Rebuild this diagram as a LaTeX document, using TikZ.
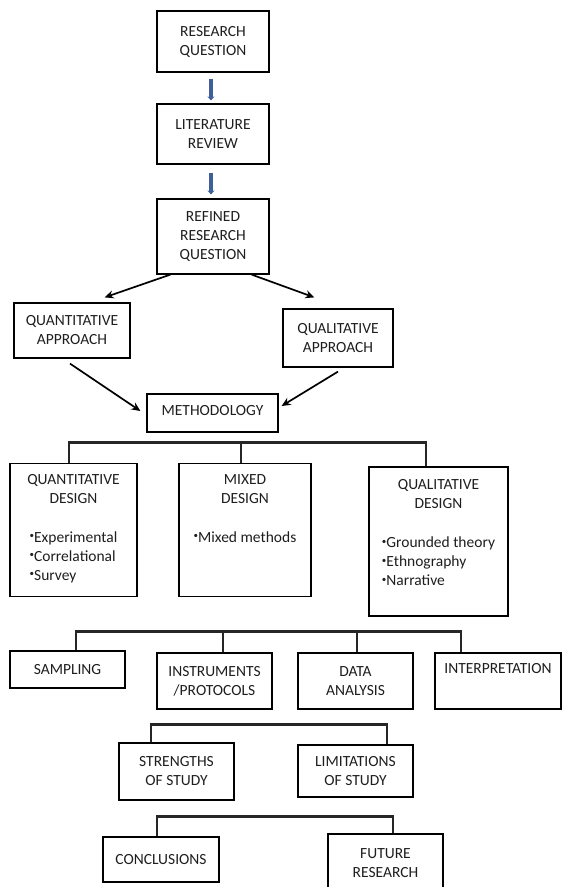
\documentclass[tikz,border=0pt]{standalone}
\usepackage{fontspec}
\setmainfont{Carlito}
\usetikzlibrary{arrows.meta}

\definecolor{arrowblue}{HTML}{3F5F9A}
\definecolor{textgray}{HTML}{1E1E1E}
\newcommand{\bul}{\raisebox{0.45ex}{\fontsize{9}{9}\selectfont\textbullet}}

\begin{document}
\begin{tikzpicture}[x=1pt, y=-1pt, font=\fontsize{15.5}{19}\selectfont, text=textgray]
  \tikzset{
    box/.style={draw, line width=1.2pt, align=center, inner sep=0pt},
    blue_arrow/.style={draw=arrowblue, line width=3.2pt, -{Stealth[length=4pt,width=7pt]}},
    black_arrow/.style={line width=1.7pt, -{Stealth[length=9pt,width=8pt]}},
    bracket/.style={line width=2.3pt, draw=black!85}
  }

  % Marco de la figura
  \useasboundingbox (0,0) rectangle (562,887);

  % Pregunta y revision
  \node[box, minimum width=112pt, minimum height=61pt] (rq) at (213,41.5) {RESEARCH\\QUESTION};
  \node[box, minimum width=112pt, minimum height=60pt] (lit) at (213,134) {LITERATURE\\REVIEW};
  \node[box, minimum width=112pt, minimum height=75pt] (rrq) at (213,236.5) {REFINED\\RESEARCH\\QUESTION};

  % Enfoques
  \node[box, minimum width=116pt, minimum height=55pt] (quant_app) at (72,330.5) {QUANTITATIVE\\APPROACH};
  \node[box, minimum width=110pt, minimum height=58pt] (qual_app) at (338,338) {QUALITATIVE\\APPROACH};
  \node[box, minimum width=131pt, minimum height=38pt, text depth=6pt] (meth) at (212.5,413) {METHODOLOGY};

  % Disenos
  \node[box, minimum width=127pt, minimum height=133pt] (quant_des) at (73.5,530)
    {QUANTITATIVE\\DESIGN\\[20pt]\begin{tabular}[t]{@{}l@{}}\bul Experimental\\ \bul Correlational\\ \bul Survey\end{tabular}};
  \node[box, minimum width=132pt, minimum height=133pt] (mixed_des) at (245,530)
    {MIXED\\DESIGN\\[20pt]\begin{tabular}[t]{@{}l@{}}\bul Mixed methods\\ ~\\ ~\end{tabular}};
  \node[box, minimum width=139pt, minimum height=149pt] (qual_des) at (438.5,541.5)
    {QUALITATIVE\\DESIGN\\[20pt]\begin{tabular}[t]{@{}l@{}}\bul Grounded theory\\ \bul Ethnography\\ \bul Narrative\\[-7pt] ~\end{tabular}};

  % Pasos del estudio
  \node[box, minimum width=115pt, minimum height=37pt] (sampling) at (67.5,669.5) {SAMPLING};
  \node[box, minimum width=115pt, minimum height=56pt] (instr) at (214.5,681) {INSTRUMENTS\\/PROTOCOLS};
  \node[box, minimum width=115pt, minimum height=56pt] (data) at (355.5,681) {DATA\\ANALYSIS};
  \node[box, minimum width=126pt, minimum height=56pt, text depth=26pt] (interp) at (498,681) {INTERPRETATION};

  \node[box, minimum width=115pt, minimum height=57pt] (strengths) at (176.5,771.5) {STRENGTHS\\OF STUDY};
  \node[box, minimum width=115pt, minimum height=52pt] (limits) at (355.5,771) {LIMITATIONS\\OF STUDY};

  \node[box, minimum width=116pt, minimum height=45pt] (concl) at (161,859.5) {CONCLUSIONS};
  \node[box, minimum width=115pt, minimum height=58pt] (future) at (385.5,863) {FUTURE\\RESEARCH};

  % Flechas azules
  \draw[blue_arrow, shorten <=6pt, shorten >=3pt] ([xshift=-2pt]rq.south) -- ([xshift=-2pt]lit.north);
  \draw[blue_arrow, shorten <=8pt, shorten >=4pt] ([xshift=-2pt]lit.south) -- ([xshift=-2pt]rrq.north);

  % Flechas negras
  \draw[black_arrow] ([xshift=14pt]rrq.south west) -- ([xshift=-26pt, yshift=5pt]quant_app.north east);
  \draw[black_arrow] ([xshift=-18pt]rrq.south east) -- ([xshift=32pt, yshift=11pt]qual_app.north west);
  \draw[black_arrow] ([xshift=-2pt, yshift=-5pt]quant_app.south) -- ([xshift=-6pt, yshift=2pt]meth.west);
  \draw[black_arrow] ([yshift=-4pt]qual_app.south) -- ([xshift=3pt, yshift=7pt]meth.east);

  % Corchetes
  \draw[bracket] ([xshift=-4.5pt]quant_des.north) -- ++(0,-20.5) -| ([xshift=-12.5pt]qual_des.north);
  \draw[bracket] ([xshift=-4pt]mixed_des.north) -- ++(0,-20.5);

  \draw[bracket] ([xshift=8.5pt]sampling.north) -- ++(0,-19) -| ([xshift=-37pt]interp.north);
  \draw[bracket] ([xshift=8.5pt]instr.north) -- ++(0,-21);
  \draw[bracket] ([xshift=1.5pt]data.north) -- ++(0,-21);

  \draw[bracket] ([xshift=-25.5pt]strengths.north) -- ++(0,-18) -| ([xshift=31.5pt]limits.north);
  \draw[bracket] ([xshift=-4pt]concl.north) -- ++(0,-20) -| ([xshift=7.5pt]future.north);
\end{tikzpicture}
\end{document}
